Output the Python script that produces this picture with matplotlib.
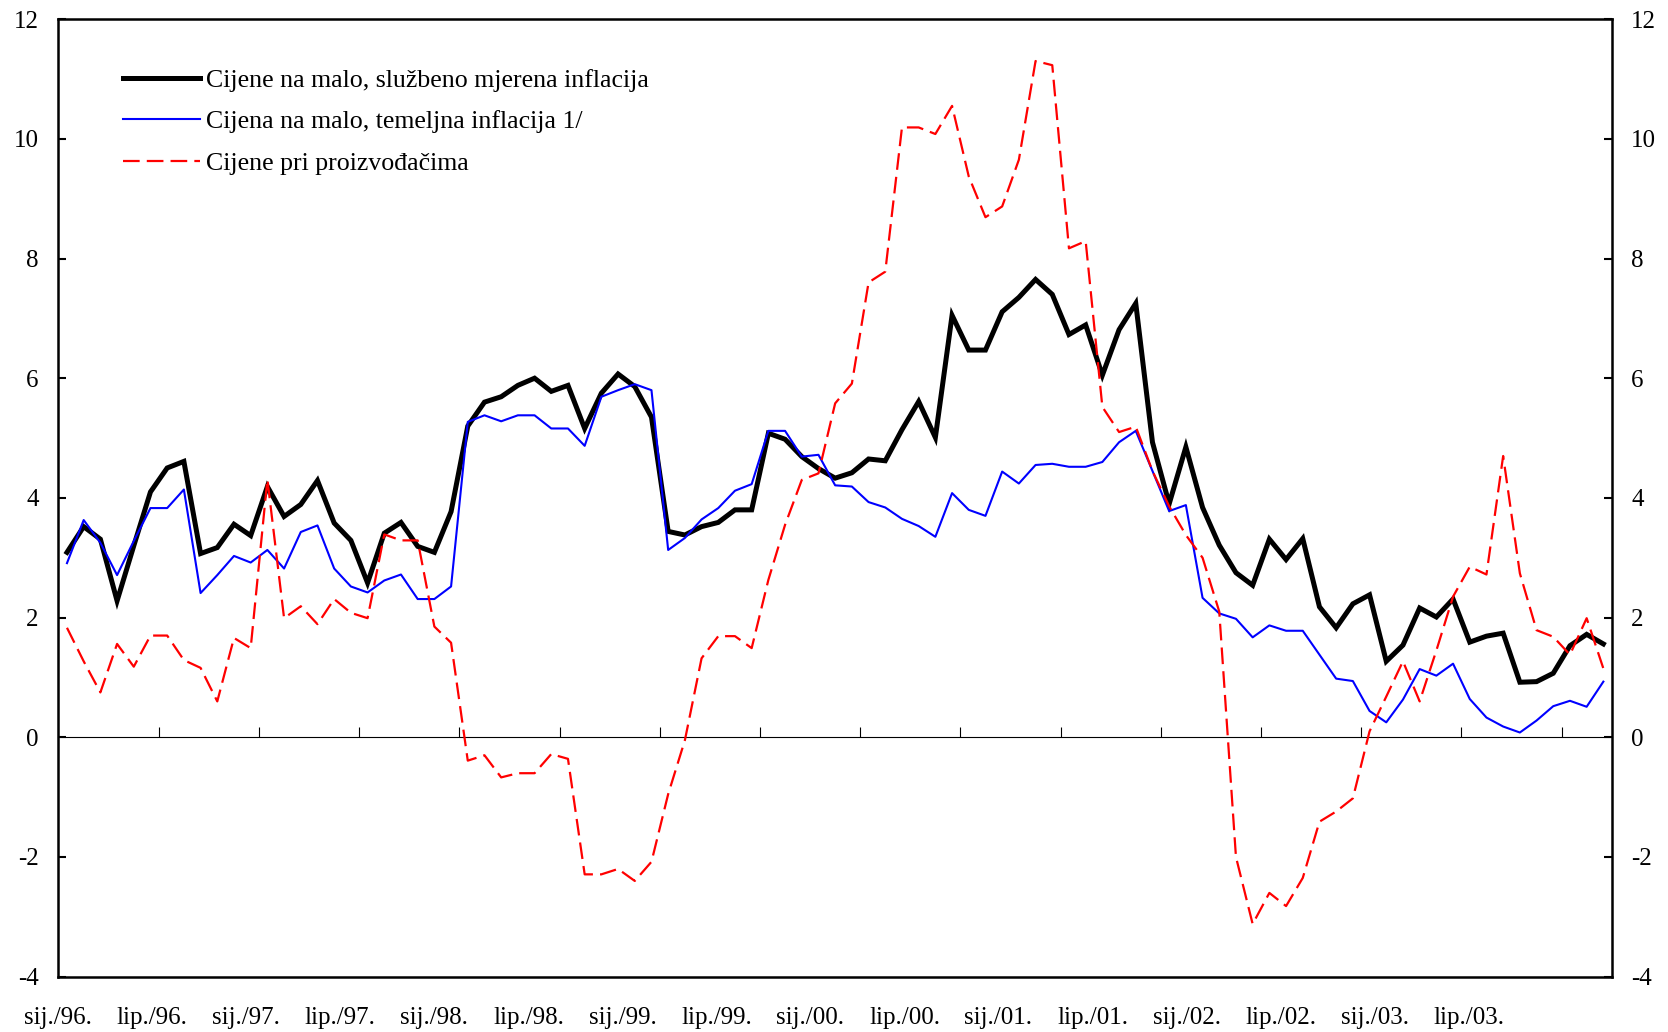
import numpy as np
import matplotlib
matplotlib.use("Agg")
import matplotlib.pyplot as plt

plt.rcParams["font.family"] = ["Liberation Serif", "DejaVu Serif"]
plt.rcParams["axes.unicode_minus"] = False

# monthly data, sij./96. .. ruj./03.
official = [3.09, 3.52, 3.31, 2.28, 3.2, 4.1, 4.5, 4.61, 3.07, 3.17, 3.56, 3.37,
            4.19, 3.69, 3.89, 4.29, 3.58, 3.29, 2.58, 3.41, 3.59, 3.19, 3.09, 3.77,
            5.2, 5.6, 5.69, 5.88, 6.0, 5.78, 5.88, 5.16, 5.75, 6.07, 5.86, 5.35,
            3.44, 3.38, 3.52, 3.59, 3.8, 3.8, 5.08, 4.98, 4.69, 4.49, 4.33, 4.42,
            4.65, 4.62, 5.14, 5.61, 5.01, 7.05, 6.47, 6.47, 7.11, 7.35, 7.65, 7.4,
            6.73, 6.89, 6.05, 6.81, 7.25, 4.93, 3.9, 4.85, 3.84, 3.21, 2.75, 2.54,
            3.31, 2.97, 3.32, 2.18, 1.83, 2.23, 2.38, 1.27, 1.54, 2.16, 2.01, 2.31,
            1.59, 1.69, 1.74, 0.92, 0.93, 1.07, 1.53, 1.72, 1.56]

core = [2.91, 3.63, 3.25, 2.71, 3.28, 3.83, 3.83, 4.14, 2.41, 2.71, 3.03, 2.92,
        3.13, 2.82, 3.43, 3.54, 2.82, 2.52, 2.42, 2.62, 2.72, 2.31, 2.31, 2.52,
        5.27, 5.38, 5.28, 5.38, 5.38, 5.16, 5.16, 4.87, 5.69, 5.8, 5.9, 5.8,
        3.13, 3.33, 3.64, 3.83, 4.12, 4.23, 5.12, 5.12, 4.69, 4.72, 4.21, 4.19,
        3.93, 3.84, 3.65, 3.53, 3.35, 4.08, 3.8, 3.7, 4.44, 4.24, 4.55, 4.57,
        4.52, 4.52, 4.6, 4.93, 5.12, 4.45, 3.78, 3.88, 2.33, 2.07, 1.98, 1.67,
        1.87, 1.78, 1.78, 1.38, 0.98, 0.94, 0.44, 0.25, 0.63, 1.14, 1.03, 1.23,
        0.64, 0.33, 0.18, 0.08, 0.28, 0.52, 0.61, 0.51, 0.93]

producer = [1.83, 1.27, 0.75, 1.56, 1.18, 1.7, 1.7, 1.29, 1.16, 0.6, 1.66, 1.49,
            4.31, 1.99, 2.19, 1.89, 2.31, 2.08, 1.99, 3.39, 3.29, 3.29, 1.85, 1.58,
            -0.39, -0.3, -0.67, -0.6, -0.6, -0.28, -0.36, -2.29, -2.29, -2.2, -2.4, -2.08,
            -0.95, -0.05, 1.32, 1.69, 1.69, 1.49, 2.63, 3.55, 4.3, 4.41, 5.58, 5.91,
            7.6, 7.78, 10.19, 10.19, 10.08, 10.55, 9.37, 8.69, 8.87, 9.65, 11.3, 11.23,
            8.17, 8.29, 5.52, 5.1, 5.19, 4.45, 3.86, 3.38, 3.0, 2.1, -2.0, -3.12,
            -2.6, -2.82, -2.35, -1.41, -1.24, -1.02, 0.1, 0.68, 1.27, 0.6, 1.45, 2.35,
            2.85, 2.72, 4.7, 2.74, 1.79, 1.68, 1.38, 1.99, 1.15]

labels = ["sij./96.", "lip./96.", "sij./97.", "lip./97.", "sij./98.", "lip./98.",
          "sij./99.", "lip./99.", "sij./00.", "lip./00.", "sij./01.", "lip./01.",
          "sij./02.", "lip./02.", "sij./03.", "lip./03."]
yticks = [-4, -2, 0, 2, 4, 6, 8, 10, 12]

series_names = ["Cijene na malo, službeno mjerena inflacija",
                "Cijena na malo, temeljna inflacija 1/",
                "Cijene pri proizvođačima"]

x = np.arange(len(official))
label_pos = np.arange(len(labels)) * 5.63 - 0.52
minor_pos = np.arange(5.5, len(official), 6)

fig = plt.figure(figsize=(16.68, 10.32), dpi=100)
ax = fig.add_axes([0.03495, 0.05359, 0.9313, 0.9279])

ax.plot(x, official, color="black", lw=3.6, solid_joinstyle="miter", label=series_names[0])
ax.plot(x, core, color="#0000ff", lw=1.5, label=series_names[1])
ax.plot(x, producer, color="#ff0000", lw=1.6, linestyle=(0, (7.5, 3.2)), label=series_names[2])

ax.set_xlim(-0.5, len(official) - 0.5)
ax.set_ylim(-4, 12)

for s in ax.spines.values():
    s.set_linewidth(1.8)

ax.set_yticks(yticks)
ax.set_yticklabels([str(v) for v in yticks])
ax.tick_params(axis="y", left=True, right=True, labelleft=True, labelright=True,
               direction="in", length=6, width=1.5, pad=14, labelsize=18)

ax.set_xticks(label_pos)
ax.set_xticklabels(labels)
ax.tick_params(axis="x", length=0, pad=22, labelsize=18)

# zero line with month ticks
zero = ax.secondary_xaxis(0.25)
zero.set_xticks(minor_pos)
zero.tick_params(axis="x", direction="in", length=7, width=0.8, labelbottom=False)
zero.spines["bottom"].set_linewidth(0.8)

ax.legend(loc="upper left", bbox_to_anchor=(0.035, 0.959), frameon=False,
          fontsize=18.6, handlelength=3.0, handletextpad=0.22, labelspacing=0.72,
          borderaxespad=0)

fig.savefig("out.png", dpi=100)
